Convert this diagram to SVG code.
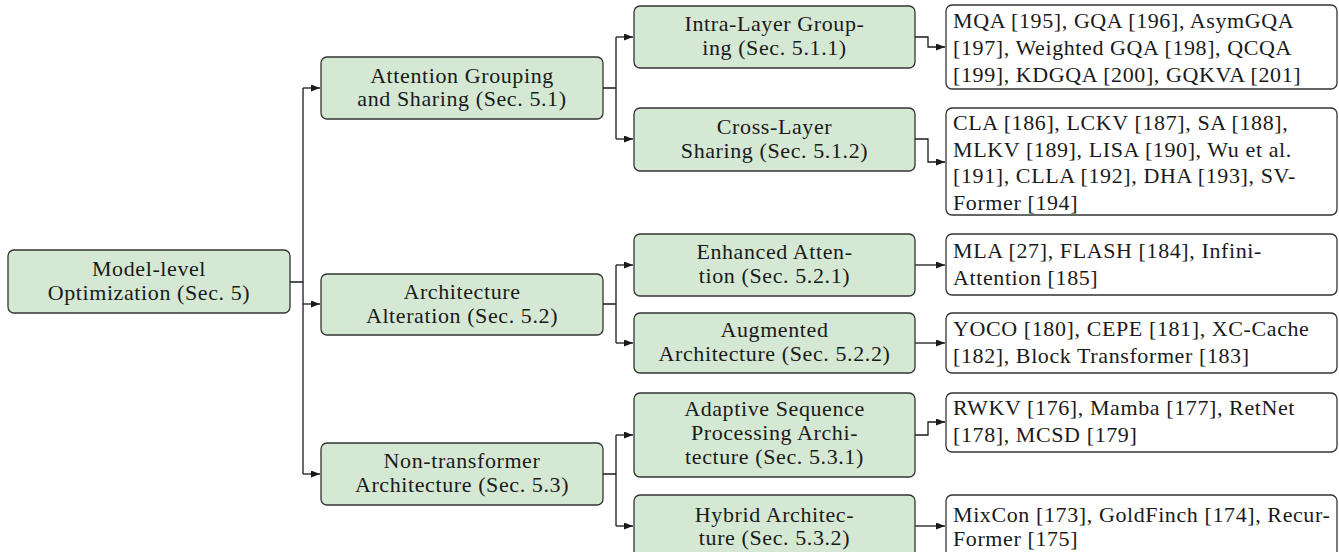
<svg xmlns="http://www.w3.org/2000/svg" width="1339" height="552" viewBox="0 0 1339 552">
<defs>
<marker id="arr" markerUnits="userSpaceOnUse" markerWidth="9" markerHeight="7" refX="9" refY="3.5" orient="auto">
<path d="M0,0 L9,3.5 L0,7 z" fill="#1a1a1a"/>
</marker>
</defs>
<style>
.g{fill:#d5e8d4;stroke:#333;stroke-width:1.3}
.w{fill:#fff;stroke:#333;stroke-width:1.3}
text{font-family:"Liberation Serif","Times New Roman",serif;font-size:22px;fill:#1a1a1a;letter-spacing:0.6px}
.c{text-anchor:middle}
.e{fill:none;stroke:#1a1a1a;stroke-width:1.3}
</style>
<rect width="1339" height="552" fill="#fff"/>
<g id="connectors">
<path class="e" d="M290,282 H303 M303,88 V474"/>
<path class="e" d="M303,88 H320" marker-end="url(#arr)"/>
<path class="e" d="M303,304 H320" marker-end="url(#arr)"/>
<path class="e" d="M303,474 H320" marker-end="url(#arr)"/>
<path class="e" d="M603,88 H616 M616,37 V139"/>
<path class="e" d="M616,37 H633" marker-end="url(#arr)"/>
<path class="e" d="M616,139 H633" marker-end="url(#arr)"/>
<path class="e" d="M603,304 H616 M616,265 V343"/>
<path class="e" d="M616,265 H633" marker-end="url(#arr)"/>
<path class="e" d="M616,343 H633" marker-end="url(#arr)"/>
<path class="e" d="M603,474 H616 M616,435 V526"/>
<path class="e" d="M616,435 H633" marker-end="url(#arr)"/>
<path class="e" d="M616,526 H633" marker-end="url(#arr)"/>
<path class="e" d="M915,37 H928 V47 H945" marker-end="url(#arr)"/>
<path class="e" d="M915,139 H928 V162 H945" marker-end="url(#arr)"/>
<path class="e" d="M915,265 H945" marker-end="url(#arr)"/>
<path class="e" d="M915,343 H945" marker-end="url(#arr)"/>
<path class="e" d="M915,435 H928 V422 H945" marker-end="url(#arr)"/>
<path class="e" d="M915,526 H945" marker-end="url(#arr)"/>
</g>
<g id="root">
<rect class="g" x="8" y="250" width="282" height="63" rx="6"/>
<text class="c" x="149" y="276">Model-level</text>
<text class="c" x="149" y="300">Optimization (Sec. 5)</text>
</g>
<g id="attention-grouping">
<rect class="g" x="321" y="57" width="282" height="62" rx="6"/>
<text class="c" x="462" y="83">Attention Grouping</text>
<text class="c" x="462" y="106">and Sharing (Sec. 5.1)</text>
</g>
<g id="architecture-alteration">
<rect class="g" x="321" y="274" width="282" height="61" rx="6"/>
<text class="c" x="462" y="299">Architecture</text>
<text class="c" x="462" y="323">Alteration (Sec. 5.2)</text>
</g>
<g id="non-transformer">
<rect class="g" x="321" y="443" width="282" height="62" rx="6"/>
<text class="c" x="462" y="468">Non-transformer</text>
<text class="c" x="462" y="492">Architecture (Sec. 5.3)</text>
</g>
<g id="intra-layer">
<rect class="g" x="634" y="6" width="281" height="62" rx="6"/>
<text class="c" x="774.5" y="31">Intra-Layer Group-</text>
<text class="c" x="774.5" y="55">ing (Sec. 5.1.1)</text>
</g>
<g id="cross-layer">
<rect class="g" x="634" y="108" width="281" height="63" rx="6"/>
<text class="c" x="774.5" y="134">Cross-Layer</text>
<text class="c" x="774.5" y="158">Sharing (Sec. 5.1.2)</text>
</g>
<g id="enhanced-attention">
<rect class="g" x="634" y="234" width="281" height="62" rx="6"/>
<text class="c" x="774.5" y="259">Enhanced Atten-</text>
<text class="c" x="774.5" y="283">tion (Sec. 5.2.1)</text>
</g>
<g id="augmented-architecture">
<rect class="g" x="634" y="313" width="281" height="60" rx="6"/>
<text class="c" x="774.5" y="337">Augmented</text>
<text class="c" x="774.5" y="361">Architecture (Sec. 5.2.2)</text>
</g>
<g id="adaptive-sequence">
<rect class="g" x="634" y="393" width="281" height="84" rx="6"/>
<text class="c" x="774.5" y="416">Adaptive Sequence</text>
<text class="c" x="774.5" y="440">Processing Archi-</text>
<text class="c" x="774.5" y="464">tecture (Sec. 5.3.1)</text>
</g>
<g id="hybrid-architecture">
<rect class="g" x="634" y="495" width="281" height="62" rx="6"/>
<text class="c" x="774.5" y="522">Hybrid Architec-</text>
<text class="c" x="774.5" y="545">ture (Sec. 5.3.2)</text>
</g>
<g id="leaf-intra">
<rect class="w" x="946" y="5" width="391" height="84" rx="6"/>
<text x="953" y="28">MQA [195], GQA [196], AsymGQA</text>
<text x="953" y="55">[197], Weighted GQA [198], QCQA</text>
<text x="953" y="82">[199], KDGQA [200], GQKVA [201]</text>
</g>
<g id="leaf-cross">
<rect class="w" x="946" y="108" width="391" height="107" rx="6"/>
<text x="953" y="130">CLA [186], LCKV [187], SA [188],</text>
<text x="953" y="156.5">MLKV [189], LISA [190], Wu et al.</text>
<text x="953" y="183">[191], CLLA [192], DHA [193], SV-</text>
<text x="953" y="209.5">Former [194]</text>
</g>
<g id="leaf-enhanced">
<rect class="w" x="946" y="234" width="391" height="61" rx="6"/>
<text x="953" y="258">MLA [27], FLASH [184], Infini-</text>
<text x="953" y="285">Attention [185]</text>
</g>
<g id="leaf-augmented">
<rect class="w" x="946" y="313" width="391" height="60" rx="6"/>
<text x="953" y="336">YOCO [180], CEPE [181], XC-Cache</text>
<text x="953" y="363">[182], Block Transformer [183]</text>
</g>
<g id="leaf-adaptive">
<rect class="w" x="946" y="393" width="391" height="59" rx="6"/>
<text x="953" y="415">RWKV [176], Mamba [177], RetNet</text>
<text x="953" y="442">[178], MCSD [179]</text>
</g>
<g id="leaf-hybrid">
<rect class="w" x="946" y="495" width="391" height="62" rx="6"/>
<text x="953" y="522">MixCon [173], GoldFinch [174], Recur-</text>
<text x="953" y="546">Former [175]</text>
</g>
</svg>
